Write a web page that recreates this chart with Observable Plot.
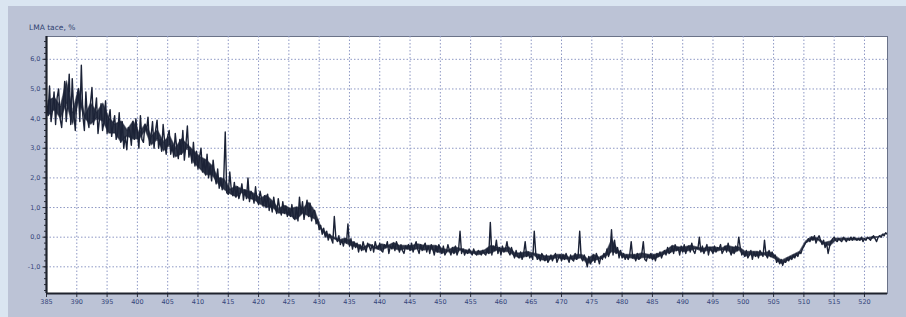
<!DOCTYPE html>
<html>
<head>
<meta charset="utf-8">
<script src="https://cdn.jsdelivr.net/npm/d3@7"></script>
<script src="https://cdn.jsdelivr.net/npm/@observablehq/plot@0.6"></script>
<style>
  html, body { margin: 0; padding: 0; }
  body { width: 906px; height: 317px; background: #dae5f1; position: relative; overflow: hidden; font-family: "DejaVu Sans", sans-serif; }
  #panel { position: absolute; left: 8px; top: 6px; width: 898px; height: 311px; background: #bcc3d6; }
  #title { position: absolute; left: 29px; top: 23px; font-size: 7.5px; color: #2f3f70; white-space: nowrap; }
  #chart { position: absolute; left: 0; top: 0; }
</style>
</head>
<body>
<div id="panel"></div>
<div id="title">LMA tace, %</div>
<div id="chart"></div>
<script>
// Wavelength axis (nm): samples every 0.25 nm starting at 385
const startNm = 385;
const stepNm = 0.25;
// LMA trace values (%), four samples per nm
const traceValues = [
  // 385-389
  4.6, 4.1, 5.1, 3.9,  4.3, 4.9, 3.8, 4.7,  5.0, 4.0, 3.7, 4.4,  5.25, 3.9, 4.5, 5.5,  3.8, 5.35, 4.2, 3.6,
  // 390-394
  4.6, 5.0, 3.9, 5.8,  4.1, 3.6, 4.9, 4.0,  3.7, 4.5, 5.05, 3.8,  4.2, 4.7, 3.5, 4.0,  4.5, 3.6, 3.9, 4.6,
  // 395-399
  3.5, 4.0, 4.3, 3.4,  3.8, 4.1, 3.3, 3.5,  4.2, 3.2, 3.9, 3.0,  3.4, 2.95, 3.7, 3.6,  3.1, 3.9, 3.3, 4.0,
  // 400-404
  3.5, 3.0, 4.1, 3.3,  3.2, 3.8, 3.6, 4.05,  3.1, 3.4, 3.9, 3.0,  3.6, 3.95, 3.0, 3.3,  2.9, 3.8, 3.2, 2.8,
  // 405-409
  3.4, 3.6, 2.8, 3.1,  2.7, 3.5, 3.0, 2.65,  3.3, 2.8, 3.6, 2.6,  3.1, 3.75, 2.7, 3.0,  2.5, 3.2, 2.4, 2.9,
  // 410-414
  2.3, 2.7, 3.0, 2.2,  2.6, 2.1, 2.8, 2.0,  2.4, 1.9, 2.6, 2.1,  1.8, 2.3, 1.65, 2.0,  1.6, 1.95, 3.55, 1.5,
  // 415-419
  1.45, 2.2, 1.6, 1.4,  1.85, 1.35, 1.7, 1.3,  1.5, 1.8, 1.25, 1.6,  1.3, 2.0, 1.2, 1.55,  1.45, 1.15, 1.7, 1.25,
  // 420-424
  1.1, 1.55, 1.3, 1.05,  1.4, 1.0, 1.45, 0.9,  1.2, 0.85, 1.35, 1.0,  0.8, 1.3, 0.95, 0.75,  1.2, 0.8, 1.05, 0.7,
  // 425-429
  0.95, 0.7, 1.1, 0.65,  0.6, 1.0, 0.55, 1.35,  0.8, 1.2, 0.6, 0.95,  1.25, 0.7, 1.15, 0.55,  0.85, 0.9, 0.45, 0.6,
  // 430-434
  0.25, 0.4, 0.1, 0.3,  0.0, 0.2, -0.1, 0.1,  -0.05, -0.2, 0.7, 0.0,  -0.15, 0.05, -0.25, -0.1,  -0.3, -0.05, -0.2, 0.45,
  // 435-439
  -0.3, -0.05, -0.4, -0.15,  -0.35, -0.2, -0.5, -0.25,  -0.45, -0.15, -0.35, -0.5,  -0.2, -0.3, -0.45, -0.25,  -0.5, -0.15, -0.35, -0.4,
  // 440-444
  -0.2, -0.45, -0.5, -0.25,  -0.35, -0.15, -0.55, -0.3,  -0.4, -0.2, -0.45, -0.15,  -0.3, -0.5, -0.25, -0.45,  -0.55, -0.3, -0.4, -0.25,
  // 445-449
  -0.45, -0.2, -0.5, -0.3,  -0.15, -0.4, -0.55, -0.25,  -0.45, -0.3, -0.2, -0.5,  -0.3, -0.55, -0.25, -0.4,  -0.6, -0.3, -0.5, -0.25,
  // 450-454
  -0.4, -0.55, -0.3, -0.6,  -0.5, -0.25, -0.45, -0.6,  -0.35, -0.55, -0.3, -0.6,  -0.45, 0.2, -0.55, -0.4,  -0.6, -0.45, -0.55, -0.4,
  // 455-459
  -0.5, -0.6, -0.4, -0.55,  -0.6, -0.45, -0.5, -0.6,  -0.45, -0.55, -0.6, -0.4,  -0.55, 0.5, -0.6, -0.3,  -0.45, -0.1, -0.55, -0.35,
  // 460-464
  -0.6, -0.3, -0.5, -0.4,  -0.15, -0.5, -0.6, -0.35,  -0.55, -0.7, -0.45, -0.65,  -0.7, -0.5, -0.75, -0.55,  -0.15, -0.65, -0.5, -0.7,
  // 465-469
  -0.6, -0.75, 0.2, -0.55,  -0.75, -0.6, -0.8, -0.55,  -0.65, -0.8, -0.6, -0.85,  -0.75, -0.6, -0.8, -0.65,  -0.55, -0.85, -0.7, -0.6,
  // 470-474
  -0.8, -0.6, -0.75, -0.55,  -0.7, -0.85, -0.6, -0.75,  -0.8, -0.55, -0.75, -0.6,  0.2, -0.7, -0.8, -0.6,  -0.75, -1.0, -0.65, -0.9,
  // 475-479
  -0.8, -0.6, -0.85, -0.55,  -0.7, -0.9, -0.65, -0.75,  -0.55, -0.7, -0.4, -0.65,  -0.5, 0.25, -0.6, -0.1,  -0.55, -0.35, -0.7, -0.45,
  // 480-484
  -0.7, -0.55, -0.75, -0.6,  -0.75, -0.6, -0.15, -0.7,  -0.6, -0.8, -0.55, -0.75,  -0.7, -0.55, -0.15, -0.75,  -0.8, -0.6, -0.7, -0.55,
  // 485-489
  -0.75, -0.6, -0.8, -0.55,  -0.65, -0.5, -0.7, -0.55,  -0.45, -0.6, -0.35, -0.55,  -0.5, -0.3, -0.55, -0.25,  -0.45, -0.35, -0.6, -0.3,
  // 490-494
  -0.5, -0.25, -0.55, -0.35,  -0.3, -0.5, -0.2, -0.45,  -0.55, -0.35, -0.4, 0.0,  -0.5, -0.3, -0.55, -0.4,  -0.25, -0.6, -0.35, -0.45,
  // 495-499
  -0.55, -0.3, -0.5, -0.35,  -0.4, -0.25, -0.55, -0.45,  -0.3, -0.5, -0.2, -0.45,  -0.6, -0.35, -0.55, -0.3,  -0.45, 0.0, -0.35, -0.6,
  // 500-504
  -0.5, -0.65, -0.45, -0.7,  -0.6, -0.45, -0.75, -0.5,  -0.65, -0.5, -0.7, -0.45,  -0.55, -0.65, -0.1, -0.6,  -0.7, -0.45, -0.65, -0.5,
  // 505-509
  -0.65, -0.6, -0.85, -0.75,  -0.9, -0.75, -0.95, -0.8,  -0.85, -0.7, -0.8, -0.65,  -0.75, -0.6, -0.7, -0.55,  -0.65, -0.5, -0.55, -0.4,
  // 510-514
  -0.3, -0.2, -0.15, -0.05,  -0.15, 0.0, -0.1, 0.05,  -0.2, -0.05, 0.05, -0.1,  -0.25, -0.1, -0.35, -0.2,  -0.55, -0.3, -0.15, -0.05,
  // 515-519
  0.0, -0.1, -0.15, -0.05,  -0.1, -0.15, 0.0, -0.05,  -0.15, -0.05, -0.1, 0.0,  -0.1, 0.0, -0.05, -0.1,  -0.05, -0.1, 0.0, -0.15,
  // 520-523
  -0.05, -0.1, 0.0, -0.05,  -0.1, 0.0, 0.05, -0.05,  -0.15, 0.0, 0.05, 0.0,  0.1, 0.05, 0.15, 0.1
];
const xDomain = [385, 523.8];
const yDomain = [-1.9, 6.77];
const xTicks = [385, 390, 395, 400, 405, 410, 415, 420, 425, 430, 435, 440, 445, 450, 455, 460, 465, 470, 475, 480, 485, 490, 495, 500, 505, 510, 515, 520];
const yTicks = [-1, 0, 1, 2, 3, 4, 5, 6];
const yMinorTicks = d3.range(-18, 68, 2).map(v => v / 10);

const data = traceValues.map((v, i) => ({nm: startNm + i * stepNm, v}));
// core of the noise band: middle two of each group of four samples (spikes excluded)
const band = d3.range(0, traceValues.length, 4).map(i => {
  const g = traceValues.slice(i, i + 4).slice().sort((a, b) => a - b);
  return {nm: startNm + (i + 1.5) * stepNm, lo: g[1], hi: g[g.length - 2]};
});
const fmtY = d => d.toFixed(1).replace(".", ",");

const textColor = "#34457a";
const gridColor = "#8e98c4";

const chart = Plot.plot({
  width: 906,
  height: 317,
  marginLeft: 46,
  marginTop: 36,
  marginRight: 19,
  marginBottom: 24,
  style: {background: "transparent", fontFamily: "DejaVu Sans, sans-serif", fontSize: "6.5px", color: textColor},
  x: {domain: xDomain},
  y: {domain: yDomain},
  marks: [
    Plot.frame({fill: "white", stroke: "#6a7288", strokeWidth: 1}),
    Plot.gridX(xTicks.slice(1), {stroke: gridColor, strokeOpacity: 1, strokeDasharray: "1.5,2", strokeWidth: 1}),
    Plot.gridY(yTicks, {stroke: gridColor, strokeOpacity: 1, strokeDasharray: "1.5,2", strokeWidth: 1}),
    Plot.areaY(band, {x: "nm", y1: "lo", y2: "hi", fill: "#1b2236", fillOpacity: 0.9, stroke: "#1b2236", strokeWidth: 1.5, strokeOpacity: 0.6, clip: true}),
    Plot.line(data, {x: "nm", y: "v", stroke: "#1b2236", strokeWidth: 1.4, strokeLinejoin: "round", clip: true}),
    Plot.axisY(yMinorTicks, {tickSize: 2, stroke: "#2a2e3a", text: null, label: null}),
    Plot.axisY(yTicks, {tickSize: 3.5, tickPadding: 2.5, tickFormat: fmtY, stroke: "#2a2e3a", fill: textColor, label: null}),
    Plot.axisX(xTicks, {tickSize: 4, tickPadding: 2, stroke: "#2a2e3a", fill: textColor, label: null}),
    Plot.ruleX([xDomain[0]], {stroke: "#1e222c", strokeWidth: 2.2}),
    Plot.ruleY([yDomain[0]], {stroke: "#1e222c", strokeWidth: 2.2})
  ]
});
document.getElementById("chart").appendChild(chart);
</script>
</body>
</html>
